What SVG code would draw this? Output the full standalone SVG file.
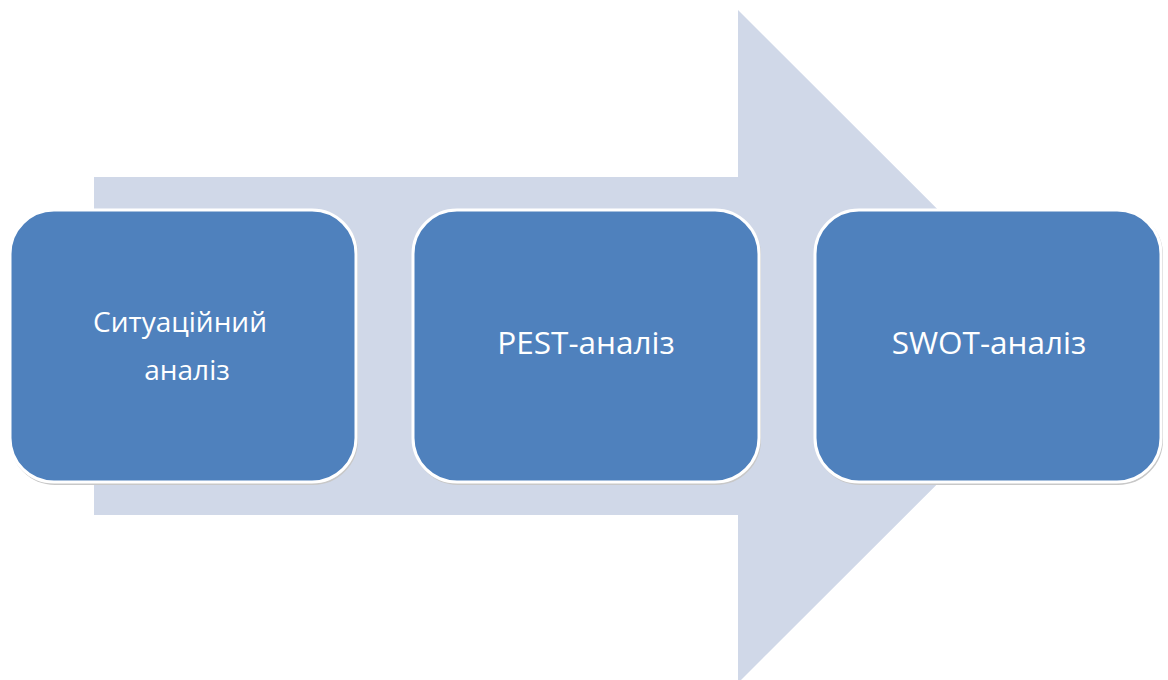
<svg xmlns="http://www.w3.org/2000/svg" width="1168" height="680" viewBox="0 0 1168 680">
<style>
.box{fill:#4F81BD;stroke:#FFFFFF;stroke-width:3}
.shadow{fill:none;stroke:#C8C8C8;stroke-width:2}
.lbl{font-family:"Open Sans","Noto Sans","Liberation Sans",sans-serif;font-size:31.5px;fill:#FFFFFF;text-anchor:middle}
.lbl2{font-size:28px}
</style>
<rect width="1168" height="680" fill="#FFFFFF"/>
<g id="connectors">
<polygon points="94,177 738,177 738,10 1075,346.5 738,683 738,515 94,515" fill="#D0D8E8"/>
</g>
<g id="node1">
<rect class="shadow" x="11" y="211" width="346" height="273" rx="44"/>
<rect class="box" x="10" y="210" width="346" height="272" rx="44"/>
<text class="lbl lbl2" x="180" y="332">Ситуаційний</text>
<text class="lbl lbl2" x="187" y="380">аналіз</text>
</g>
<g id="node2">
<rect class="shadow" x="414" y="211" width="346" height="273" rx="44"/>
<rect class="box" x="413" y="210" width="346" height="272" rx="44"/>
<text class="lbl" x="586" y="354">PEST-аналіз</text>
</g>
<g id="node3">
<rect class="shadow" x="816" y="211" width="346" height="273" rx="44"/>
<rect class="box" x="815" y="210" width="346" height="272" rx="44"/>
<text class="lbl" x="989" y="354">SWOT-аналіз</text>
</g>
</svg>
